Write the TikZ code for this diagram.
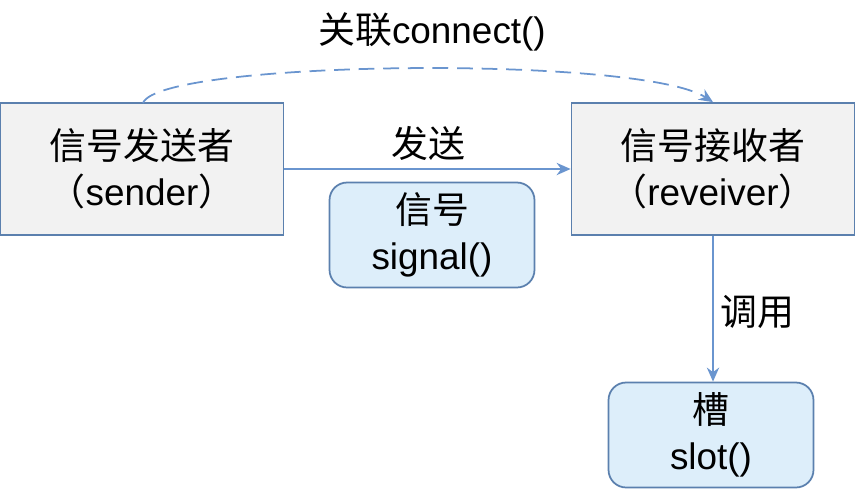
\documentclass[tikz,border=0pt]{standalone}
\usepackage{fontspec}
\setmainfont{Liberation Sans}
\newfontfamily\cjk{Noto Sans CJK SC}
\usetikzlibrary{arrows.meta}
\definecolor{bd}{HTML}{5B80AE}
\definecolor{ln}{HTML}{6A95CF}
\definecolor{gf}{HTML}{F2F2F2}
\definecolor{bf}{HTML}{DDEEFA}
\begin{document}
\begin{tikzpicture}[x=0.02cm,y=-0.02cm,
  box/.style={draw=bd,line width=1pt,fill=gf,minimum width=5.66cm,minimum height=2.64cm,align=center,inner sep=0pt,font=\fontsize{21}{26}\selectfont},
  rbox/.style={draw=bd,line width=1pt,fill=bf,rounded corners=10pt,minimum width=4.1cm,minimum height=2.1cm,align=center,inner sep=0pt,font=\fontsize{21}{26}\selectfont},
  lab/.style={font=\fontsize{21}{26}\selectfont},
  arr/.style={draw=ln,line width=1pt,-{Stealth[length=8pt,width=7pt]}}]
\useasboundingbox (0,0) rectangle (855,490);
\node[box] (s) at (142,169) {{\cjk 信号发送者}\\[0pt]{\cjk （}sender{\cjk ）}};
\node[box] (r) at (713,169) {{\cjk 信号接收者}\\[0pt]{\cjk （}reveiver{\cjk ）}};
\node[rbox] (g) at (432,235) {{\cjk 信号}\\[0pt]signal()};
\node[rbox] (t) at (711,435) {{\cjk 槽}\\[0pt]slot()};
\draw[arr] (s.east) -- (r.west);
\node[lab] (l1) at (428,143) {\cjk 发送};
\draw[arr,dashed,dash pattern=on 9pt off 5pt] (143,103) coordinate (a) .. controls (160,60) and (640,55) .. (r.north);
\node[lab] (l2) at (432,32) {{\cjk 关联}connect()};
\draw[arr] (r.south) -- (r.south |- t.north);
\node[lab] (l3) at (757,312) {\cjk 调用};
\end{tikzpicture}
\end{document}
